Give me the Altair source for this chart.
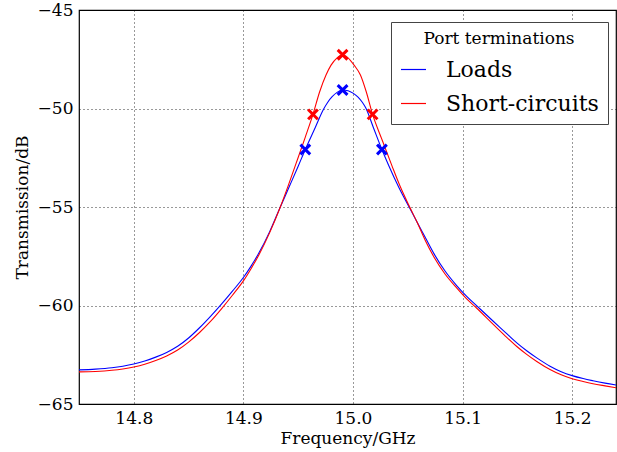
import altair as alt
import pandas as pd

# Measured transmission of the resonator for two port terminations
loads_f = [14.750, 14.765, 14.780, 14.790, 14.800, 14.810, 14.820, 14.830, 14.840,
           14.850, 14.860, 14.870, 14.880, 14.890, 14.900, 14.907, 14.914, 14.924,
           14.9337, 14.942, 14.950, 14.9565, 14.9657, 14.973, 14.977, 14.981,
           14.9855, 14.9905, 14.9955, 15.000, 15.0046, 15.0085, 15.0115, 15.0185,
           15.0264, 15.0325, 15.042, 15.0522, 15.0583, 15.066, 15.074, 15.084,
           15.0948, 15.104, 15.113, 15.128, 15.139, 15.1495, 15.1585, 15.1677,
           15.1798, 15.190, 15.200, 15.210, 15.219, 15.230, 15.2406]
loads_db = [-63.27, -63.23, -63.16, -63.08, -62.97, -62.82, -62.62, -62.38, -62.07,
            -61.65, -61.13, -60.55, -59.93, -59.27, -58.58, -58.00, -57.35, -56.25,
            -55.00, -53.95, -52.93, -52.08, -50.95, -50.05, -49.68, -49.40,
            -49.18, -49.06, -49.10, -49.22, -49.42, -49.68, -49.95, -50.95,
            -52.08, -52.88, -54.02, -55.10, -55.75, -56.55, -57.38, -58.25,
            -59.00, -59.55, -60.02, -60.80, -61.36, -61.90, -62.30, -62.66,
            -63.08, -63.36, -63.56, -63.71, -63.82, -63.94, -64.04]

shorts_f = [14.750, 14.765, 14.780, 14.790, 14.800, 14.810, 14.820, 14.830, 14.840,
            14.850, 14.860, 14.870, 14.880, 14.890, 14.900, 14.907, 14.914, 14.924,
            14.9337, 14.941, 14.948, 14.9565, 14.9635, 14.9696, 14.9754, 14.980,
            14.9855, 14.9905, 14.9955, 15.001, 15.0068, 15.0121, 15.0179, 15.0264,
            15.0355, 15.043, 15.0522, 15.0583, 15.066, 15.074, 15.084, 15.0948,
            15.104, 15.113, 15.128, 15.139, 15.1495, 15.1585, 15.1677, 15.1798,
            15.190, 15.200, 15.210, 15.219, 15.230, 15.2406]
shorts_db = [-63.37, -63.35, -63.29, -63.22, -63.12, -62.98, -62.79, -62.56, -62.26,
             -61.86, -61.37, -60.81, -60.17, -59.48, -58.75, -58.13, -57.45, -56.30,
             -55.00, -53.90, -52.80, -51.45, -50.30, -49.15, -48.30, -47.80,
             -47.43, -47.27, -47.43, -47.80, -48.30, -49.15, -50.30, -51.57,
             -52.90, -53.95, -55.05, -55.75, -56.70, -57.55, -58.40, -59.12,
             -59.68, -60.14, -60.96, -61.55, -62.08, -62.48, -62.84, -63.25,
             -63.52, -63.72, -63.86, -63.97, -64.08, -64.18]

# Peak and -3 dB points
loads_mark_f = [14.9565, 14.9905, 15.0264]
loads_mark_db = [-52.08, -49.06, -52.08]
shorts_mark_f = [14.9635, 14.9905, 15.0179]
shorts_mark_db = [-50.30, -47.27, -50.30]

series = ["Loads", "Short-circuits"]
colors = ["#0000ff", "#ff0000"]

curves = pd.concat([
    pd.DataFrame({"f": loads_f, "db": loads_db, "s": series[0]}),
    pd.DataFrame({"f": shorts_f, "db": shorts_db, "s": series[1]}),
])
marks = pd.concat([
    pd.DataFrame({"f": loads_mark_f, "db": loads_mark_db, "s": series[0]}),
    pd.DataFrame({"f": shorts_mark_f, "db": shorts_mark_db, "s": series[1]}),
])

FONT = "DejaVu Serif"

x = alt.X("f:Q", title="Frequency/GHz",
          scale=alt.Scale(domain=[14.75, 15.24], nice=False, zero=False),
          axis=alt.Axis(values=[14.8, 14.9, 15.0, 15.1, 15.2], format=".1f"))
y = alt.Y("db:Q", title="Transmission/dB",
          scale=alt.Scale(domain=[-65, -45], nice=False, zero=False),
          axis=alt.Axis(values=[-65, -60, -55, -50, -45], format="d"))

lines = alt.Chart(curves).mark_line(
    strokeWidth=1.1, clip=True, interpolate="monotone"
).encode(
    x=x, y=y,
    color=alt.Color("s:N", scale=alt.Scale(domain=series, range=colors),
                    legend=alt.Legend(title="Port terminations")),
    order="f:Q",
)

xshape = "M-1,-1L1,1M1,-1L-1,1"


def cross_layer(name, col):
    return alt.Chart(marks).transform_filter(alt.datum.s == name).mark_point(
        shape=xshape, filled=False, strokeWidth=3, size=95, opacity=1,
        color=col,
    ).encode(x="f:Q", y="db:Q")


chart = alt.layer(
    lines,
    cross_layer(series[0], colors[0]),
    cross_layer(series[1], colors[1]),
).properties(
    width=537, height=394,
    autosize=alt.AutoSizeParams(type="none"),
    padding={"left": 79, "top": 10, "right": 1, "bottom": 48},
).configure_view(
    stroke="black", strokeWidth=1.2,
).configure_axis(
    labelFont=FONT, titleFont=FONT, labelFontSize=17, titleFontSize=17,
    labelColor="black", titleColor="black", titleFontWeight="normal",
    grid=True, gridColor="black", gridDash=[1, 3], gridOpacity=0.8, gridWidth=1,
    domain=False, ticks=False, labelPadding=6,
).configure_axisX(
    titlePadding=4,
).configure_axisY(
    titlePadding=6,
).configure_legend(
    orient="none", legendX=312, legendY=12,
    titleFont=FONT, labelFont=FONT, titleFontSize=17, labelFontSize=22,
    titleFontWeight="normal", titleColor="black", labelColor="black",
    titleAnchor="middle", titlePadding=8,
    symbolType="stroke", symbolSize=625, symbolStrokeWidth=1.2,
    labelOffset=19, rowPadding=9,
    strokeColor="#444444", fillColor="white", padding=9, cornerRadius=0,
)

chart.save("out.html", embed_options={"renderer": "svg", "actions": False})
